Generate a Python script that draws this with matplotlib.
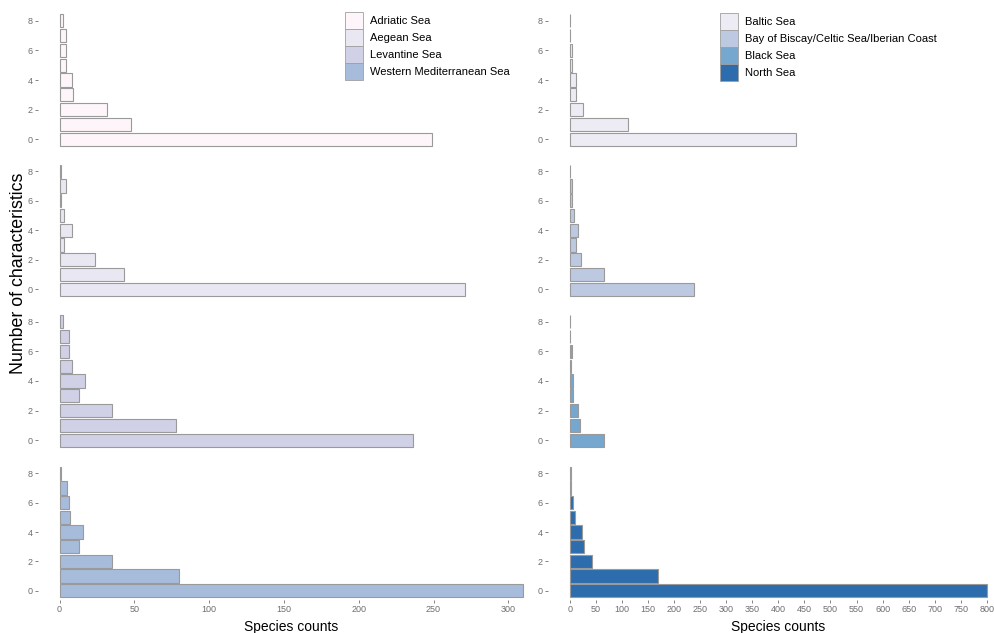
import matplotlib
matplotlib.use("Agg")
import matplotlib.pyplot as plt
from matplotlib.patches import Patch

plt.rcParams['font.family'] = ['Liberation Sans', 'DejaVu Sans']

# ---------------- data ----------------
characteristics = [0, 1, 2, 3, 4, 5, 6, 7, 8]

left_seas = ["Adriatic Sea", "Aegean Sea", "Levantine Sea", "Western Mediterranean Sea"]
right_seas = ["Baltic Sea", "Bay of Biscay/Celtic Sea/Iberian Coast", "Black Sea", "North Sea"]

adriatic = [249, 48, 32, 9, 8, 4, 4, 4, 2]
aegean = [271, 43, 24, 3, 8, 3, 1, 4, 1]
levantine = [236, 78, 35, 13, 17, 8, 6, 6, 2]
western_med = [310, 80, 35, 13, 16, 7, 6, 5, 1]

baltic = [434, 112, 26, 13, 13, 5, 4, 1, 1]
bay_biscay = [238, 66, 22, 12, 15, 8, 4, 4, 1]
black_sea = [66, 19, 15, 6, 6, 2, 4, 0, 1]
north_sea = [800, 170, 43, 27, 24, 10, 6, 3, 3]

left_ticks = [0, 50, 100, 150, 200, 250, 300]
right_ticks = list(range(0, 801, 50))
y_ticks = [0, 2, 4, 6, 8]

left_colors = ["#FDF5F9", "#E9E7F1", "#D0D1E6", "#A7BCDB"]
right_colors = ["#EDECF4", "#BDC9E1", "#76A7CF", "#2E6DAD"]

left_values = [adriatic, aegean, levantine, western_med]
right_values = [baltic, bay_biscay, black_sea, north_sea]

# ---------------- layout ----------------
W, H = 994, 633
fig = plt.figure(figsize=(W / 100, H / 100), dpi=100)


def rect(x0, x1, y0, y1):
    return [x0 / W, 1 - y1 / H, (x1 - x0) / W, (y1 - y0) / H]


rows = [(11.8, 148.2), (162.4, 298.2), (312.8, 449.2), (464.4, 599.6)]
left_x = (38, 530)
right_x = (548, 994)
left_xlim = (-14.4, 314.5)
right_xlim = (-41.6, 813.5)

tick_color = "#6E6E6E"
edge = "#9A9A9A"


def draw(ax, vals, color, xlim, xticks, bottom):
    ax.barh(characteristics, vals, height=0.9, color=color, edgecolor=edge, linewidth=0.8)
    ax.set_xlim(*xlim)
    ax.set_ylim(-0.6, 8.6)
    for s in ax.spines.values():
        s.set_visible(False)
    ax.set_yticks(y_ticks)
    ax.tick_params(axis='y', length=2.2, width=0.6, color=tick_color, labelcolor=tick_color,
                   labelsize=6.5, pad=1.5)
    if bottom:
        ax.set_xticks(xticks)
        ax.tick_params(axis='x', length=2.2, width=0.6, color=tick_color, labelcolor=tick_color,
                       labelsize=6.5, pad=2)
    else:
        ax.set_xticks([])
    ax.patch.set_alpha(0)


for i, (y0, y1) in enumerate(rows):
    axl = fig.add_axes(rect(left_x[0], left_x[1], y0, y1))
    draw(axl, left_values[i], left_colors[i], left_xlim, left_ticks, i == 3)
    axr = fig.add_axes(rect(right_x[0], right_x[1], y0, y1))
    draw(axr, right_values[i], right_colors[i], right_xlim, right_ticks, i == 3)

# legends
fs = 8
fpx = fs * 100 / 72
leg_kw = dict(loc='upper left', frameon=False, borderpad=0, borderaxespad=0, labelspacing=0,
              handlelength=18 / fpx, handleheight=1.98, handletextpad=7 / fpx, fontsize=fs)
lh = [Patch(facecolor=c, edgecolor="#A0A0A0", linewidth=0.6) for c in left_colors]
rh = [Patch(facecolor=c, edgecolor="#A0A0A0", linewidth=0.6) for c in right_colors]
fig.legend(lh, left_seas, bbox_to_anchor=(345 / W, 1 - 12 / H), **leg_kw)
fig.legend(rh, right_seas, bbox_to_anchor=(720 / W, 1 - 12.7 / H), **leg_kw)

# axis titles
fig.text(291 / W, 1 - 627 / H, "Species counts", ha='center', va='center', fontsize=10)
fig.text(778 / W, 1 - 627 / H, "Species counts", ha='center', va='center', fontsize=10)
fig.text(19 / W, 1 - 273 / H, "Number of characteristics", ha='center', va='center',
         rotation=90, fontsize=12.8)

fig.savefig("out.png", dpi=100)
